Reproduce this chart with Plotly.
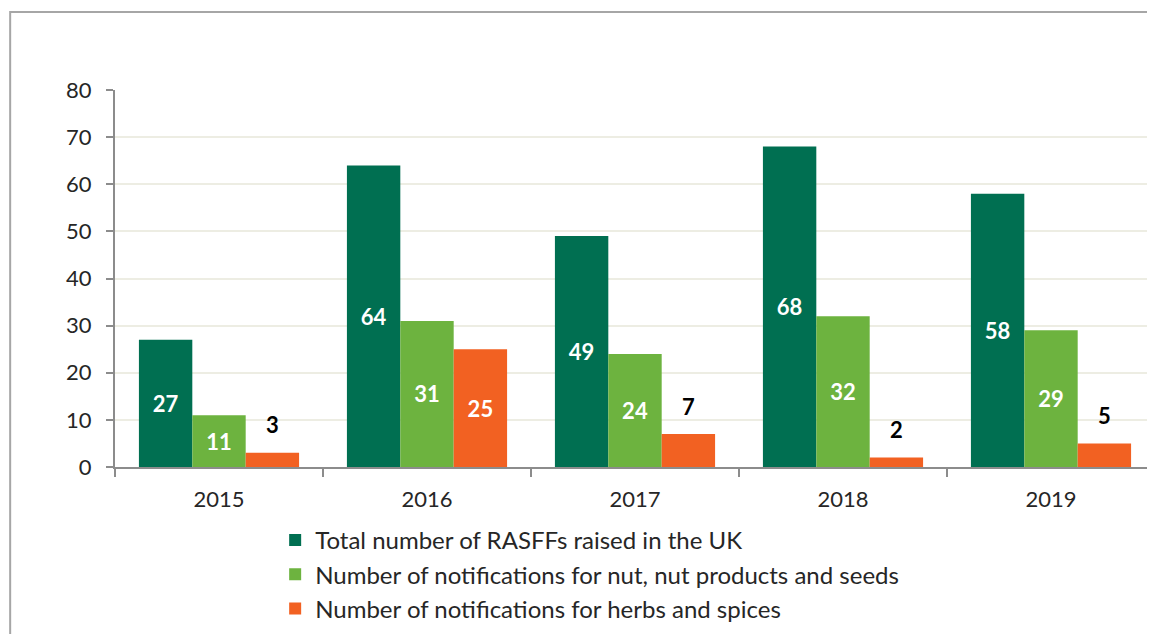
import plotly.graph_objects as go

years = ["2015", "2016", "2017", "2018", "2019"]
total_uk = [27, 64, 49, 68, 58]
nuts = [11, 31, 24, 32, 29]
herbs = [3, 25, 7, 2, 5]

series_names = [
    "Total number of RASFFs raised in the UK",
    "Number of notifications for nut, nut products and seeds",
    "Number of notifications for herbs and spices",
]
colors = ["#006F51", "#6DB33F", "#F26122"]
series = [total_uk, nuts, herbs]

FONT = "Lato"
INSIDE_MIN = 10  # values below this get their label above the bar

fig = go.Figure()
for name, vals, col in zip(series_names, series, colors):
    fig.add_trace(go.Bar(
        x=years, y=vals, name=name,
        marker=dict(color=col, line=dict(width=0)),
        text=[str(v) if v >= INSIDE_MIN else "" for v in vals],
        textposition="inside", insidetextanchor="middle",
        textfont=dict(family=FONT, size=22, color="white", weight="bold"),
        hoverinfo="skip",
    ))

# outside labels for small bars (offset to the bar's slot within group)
slot_px = 53
for vals, shift in zip(series, [-slot_px, 0, slot_px]):
    for i, v in enumerate(vals):
        if v < INSIDE_MIN:
            fig.add_annotation(x=i, y=v, xshift=shift, yshift=28,
                               text=f"<b>{v}</b>", showarrow=False,
                               font=dict(family=FONT, size=22, color="black"))

# outer frame
fig.add_shape(type="rect", xref="paper", yref="paper",
              x0=-0.1008, x1=1.03, y0=-0.6, y1=1.207,
              line=dict(color="#A6A6A6", width=2), fillcolor="rgba(0,0,0,0)",
              layer="below")

fig.update_layout(
    width=1147, height=626,
    margin=dict(l=107, r=0, t=82, b=167, autoexpand=False),
    paper_bgcolor="white", plot_bgcolor="white",
    barmode="group", bargap=0.23, bargroupgap=0,
    font=dict(family=FONT, size=22, color="#262626"),
    showlegend=True,
    legend=dict(orientation="v", x=0.154, xanchor="left", y=-0.135, yanchor="top",
                font=dict(family=FONT, size=24, color="#262626"),
                itemclick=False, itemdoubleclick=False,
                tracegroupgap=0, bgcolor="rgba(0,0,0,0)"),
    xaxis=dict(type="category", range=[-0.5, len(years) - 0.5],
               showline=True, linecolor="#8C8C8C", linewidth=2,
               ticks="outside", tickson="boundaries", ticklen=8,
               tickcolor="#8C8C8C", tickwidth=2,
               showgrid=False, ticklabelstandoff=12,
               tickfont=dict(family=FONT, size=22, color="#262626")),
    yaxis=dict(range=[0, 80], dtick=10, showline=True, linecolor="#8C8C8C",
               linewidth=2, ticks="outside", ticklen=7, tickcolor="#8C8C8C",
               tickwidth=2, showgrid=True, gridcolor="#EDEDE3", gridwidth=2,
               zeroline=False, ticklabelstandoff=10,
               tickfont=dict(family=FONT, size=22, color="#262626")),
)

fig.write_html("out.html")
